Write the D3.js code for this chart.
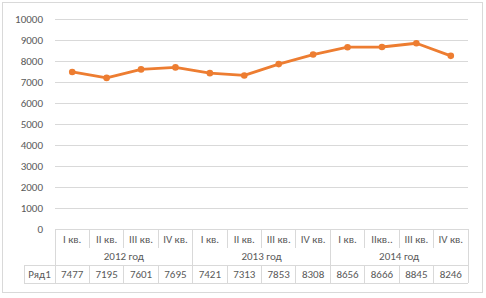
<!DOCTYPE html>
<html>
<head>
<meta charset="utf-8">
<script src="https://cdn.jsdelivr.net/npm/d3@7"></script>
<style>
body { margin: 0; background: #fff; }
svg text { font-family: Calibri, Carlito, "Liberation Sans", sans-serif; fill: #595959; }
</style>
</head>
<body>
<svg id="svg" width="486" height="298"></svg>
<script>
const quarters = ['I кв.', 'II кв.', 'III кв.', 'IV кв.', 'I кв.', 'II кв.', 'III кв.', 'IV кв.', 'I кв.', 'IIкв..', 'III кв.', 'IV кв.']
const years = ['2012 год', '2013 год', '2014 год']
const seriesName = 'Ряд1'
const values = [7477, 7195, 7601, 7695, 7421, 7313, 7853, 8308, 8656, 8666, 8845, 8246]
const yTicks = [0, 1000, 2000, 3000, 4000, 5000, 6000, 7000, 8000, 9000, 10000]

const svg = d3.select('#svg')
const gridColor = '#d9d9d9'
const plotLeft = 55, plotRight = 468, plotTop = 19, plotBottom = 229

// chart frame
svg.append('rect')
    .attr('x', 2.5).attr('y', 2.5)
    .attr('width', 480).attr('height', 290)
    .attr('fill', '#fff')
    .attr('stroke', gridColor)

const x = d3.scaleBand()
    .domain(d3.range(quarters.length))
    .range([plotLeft, plotRight])
    .padding(0)
const y = d3.scaleLinear()
    .domain([0, 10000])
    .range([plotBottom, plotTop])

// y axis + gridlines
const yAxis = svg.append('g')
    .attr('transform', `translate(${plotLeft},0)`)
    .call(d3.axisLeft(y).tickValues(yTicks).tickSize(-(plotRight - plotLeft)).tickPadding(12).tickFormat(d3.format('d')))
yAxis.select('.domain').remove()
yAxis.selectAll('.tick line').attr('stroke', gridColor).attr('stroke-width', 1)
yAxis.selectAll('.tick text').style('font-size', '11px').attr('fill', '#595959')

// data table under the axis
const table = svg.append('g').attr('stroke', gridColor).attr('stroke-width', 1).attr('shape-rendering', 'crispEdges')
const rowQ = [plotBottom, 248], rowY = [248, 265], rowS = [265, 283]
const bw = x.bandwidth()

// quarter row verticals
table.selectAll('.vq')
    .data(d3.range(quarters.length + 1))
    .enter().append('line')
    .attr('x1', (d) => plotLeft + d * bw).attr('x2', (d) => plotLeft + d * bw)
    .attr('y1', rowQ[0]).attr('y2', rowQ[1])
// year row verticals
table.selectAll('.vy')
    .data(d3.range(years.length + 1))
    .enter().append('line')
    .attr('x1', (d) => plotLeft + d * 4 * bw).attr('x2', (d) => plotLeft + d * 4 * bw)
    .attr('y1', rowY[0]).attr('y2', rowY[1])
// series row verticals
table.selectAll('.vs')
    .data([24].concat(d3.range(quarters.length + 1).map((d) => plotLeft + d * bw)))
    .enter().append('line')
    .attr('x1', (d) => d).attr('x2', (d) => d)
    .attr('y1', rowS[0]).attr('y2', rowS[1])
// horizontals
table.append('line').attr('x1', plotLeft).attr('x2', plotRight).attr('y1', plotBottom).attr('y2', plotBottom)
table.append('line').attr('x1', 24).attr('x2', plotRight).attr('y1', rowS[0]).attr('y2', rowS[0])
table.append('line').attr('x1', 24).attr('x2', plotRight).attr('y1', rowS[1]).attr('y2', rowS[1])

svg.selectAll('.qlabel')
    .data(quarters)
    .enter().append('text')
    .attr('x', (d, i) => x(i) + bw / 2)
    .attr('y', 239)
    .attr('dy', '0.35em')
    .attr('text-anchor', 'middle')
    .style('font-size', '11px')
    .text((d) => d)
svg.selectAll('.ylabel')
    .data(years)
    .enter().append('text')
    .attr('x', (d, i) => plotLeft + (i * 4 + 2) * bw)
    .attr('y', 256)
    .attr('dy', '0.35em')
    .attr('text-anchor', 'middle')
    .style('font-size', '11px')
    .text((d) => d)
svg.selectAll('.vlabel')
    .data(values)
    .enter().append('text')
    .attr('x', (d, i) => x(i) + bw / 2)
    .attr('y', 274)
    .attr('dy', '0.35em')
    .attr('text-anchor', 'middle')
    .style('font-size', '11px')
    .text((d) => d)
svg.append('text')
    .attr('x', (24 + plotLeft) / 2)
    .attr('y', 274)
    .attr('dy', '0.35em')
    .attr('text-anchor', 'middle')
    .style('font-size', '11px')
    .text(seriesName)

// line + markers
const line = d3.line()
    .x((d, i) => x(i) + bw / 2)
    .y((d) => y(d))
svg.append('path')
    .datum(values)
    .attr('d', line)
    .attr('fill', 'none')
    .attr('stroke', '#ED7D31')
    .attr('stroke-width', 2.8)
    .attr('stroke-linejoin', 'round')
svg.selectAll('.dot')
    .data(values)
    .enter().append('circle')
    .attr('cx', (d, i) => x(i) + bw / 2)
    .attr('cy', (d) => y(d))
    .attr('r', 3.3)
    .attr('fill', '#ED7D31')
</script>
</body>
</html>
